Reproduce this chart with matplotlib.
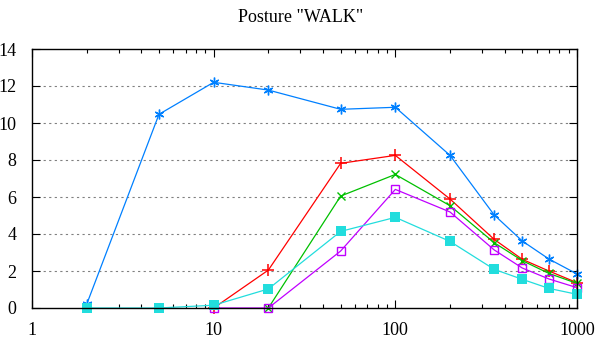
import matplotlib
matplotlib.use("Agg")
import matplotlib.pyplot as plt
from matplotlib.ticker import LogLocator, FixedLocator, NullFormatter

plt.rcParams['font.family'] = ['Liberation Serif', 'DejaVu Serif']

# data
x_all = [2, 5, 10, 20, 50, 100, 200, 350, 500, 700, 1000]
x_red = [10, 20, 50, 100, 200, 350, 500, 700, 1000]
x_green = [20, 50, 100, 200, 350, 500, 700, 1000]
x_purple = [10, 20, 50, 100, 200, 350, 500, 700, 1000]

red = [0, 2.05, 7.82, 8.25, 5.89, 3.71, 2.63, 2.0, 1.37]
green = [0, 6.05, 7.22, 5.53, 3.53, 2.56, 1.87, 1.33]
blue = [0.2, 10.47, 12.2, 11.78, 10.74, 10.85, 8.25, 5.03, 3.62, 2.65, 1.84]
purple = [0, 0, 3.08, 6.41, 5.19, 3.14, 2.16, 1.57, 1.1]
cyan = [0, 0, 0.15, 1.03, 4.14, 4.9, 3.6, 2.09, 1.55, 1.06, 0.74]

fig = plt.figure(figsize=(6.01, 3.44), dpi=100)
ax = fig.add_axes([32/601, 1-308/344, 545/601, 259/344])

lw = 0.9
ax.plot(x_red, red, color='#ff0000', lw=lw, marker='+', ms=8, mew=1.1, clip_on=False)
ax.plot(x_green, green, color='#00c000', lw=lw, marker='x', ms=6, mew=1.0, clip_on=False)
ax.plot(x_all, blue, color='#0080ff', lw=lw, marker=(6, 2, 0), ms=7, mew=1.0, clip_on=False)
ax.plot(x_purple, purple, color='#c000ff', lw=lw, marker='s', ms=6, mfc='none', mew=1.0, clip_on=False)
ax.plot(x_all, cyan, color='#22dddd', lw=lw, marker='s', ms=6.5, mew=0, clip_on=False)

ax.set_xscale('log')
ax.set_xlim(1, 1000)
ax.set_ylim(0, 14)
ax.xaxis.set_major_locator(FixedLocator([1, 10, 100, 1000]))
ax.set_xticklabels(['1', '10', '100', '1000'])
ax.xaxis.set_minor_locator(LogLocator(base=10, subs=range(2, 10)))
ax.xaxis.set_minor_formatter(NullFormatter())
ax.set_yticks(range(0, 15, 2))

for y in range(2, 14, 2):
    ax.axhline(y, color='#808080', lw=0.8, ls=(0, (2, 3)), zorder=0)

ax.tick_params(which='both', direction='in', top=True, right=True, labelsize=13)
ax.tick_params(which='major', length=6, width=0.8)
ax.tick_params(which='minor', length=3, width=0.8)
ax.tick_params(axis='y', pad=11)
ax.tick_params(axis='x', pad=10)
for s in ax.spines.values():
    s.set_linewidth(1.0)

fig.suptitle('Posture "WALK"', y=0.975, fontsize=13)

fig.savefig('out.png', dpi=100)
